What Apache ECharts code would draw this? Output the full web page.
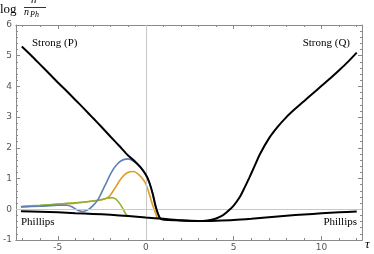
<!DOCTYPE html>
<html><head><meta charset="utf-8">
<script src="https://cdn.jsdelivr.net/npm/echarts@6/dist/echarts.min.js"></script>
<style>html,body{margin:0;padding:0;background:#fff}#c{width:374px;height:254px}</style>
</head><body><div id="c"></div>
<script>
// Data
const strongTau = [-7.05,-6.5,-6,-5.5,-5,-4.5,-4,-3.5,-3,-2.5,-2,-1.5,-1,-0.6,-0.3,0,0.2,0.4,0.55,0.68,0.8,0.95,1.3,1.7,2.2,2.7,3.2,3.6,4,4.4,4.7,5,5.34,5.6,5.9,6.2,6.5,7,7.5,8,8.5,9,9.5,10,10.5,11,11.5,12];
const strongVal = [5.3,5.0,4.71,4.42,4.13,3.85,3.56,3.27,2.97,2.67,2.36,2.06,1.75,1.55,1.37,1.13,0.88,0.5,0.12,-0.12,-0.28,-0.33,-0.35,-0.36,-0.37,-0.38,-0.38,-0.36,-0.3,-0.19,-0.05,0.12,0.39,0.68,1.04,1.42,1.8,2.3,2.68,3.0,3.27,3.52,3.77,4.02,4.27,4.53,4.8,5.1];
const phillipsTau = [-7.1,-6,-5,-4,-3,-2,-1,0,1,2,3,4,5,6,7,8,9,10,11,12];
const phillipsVal = [-0.06,-0.08,-0.1,-0.13,-0.15,-0.18,-0.22,-0.27,-0.31,-0.36,-0.38,-0.37,-0.35,-0.31,-0.26,-0.21,-0.17,-0.13,-0.1,-0.07];
const blueTau = [-7.1,-6,-5,-4.5,-4.2,-3.9,-3.6,-3.3,-3.0,-2.7,-2.33,-2.0,-1.76,-1.4,-1.0,-0.7,-0.45,-0.3,0,0.2,0.4,0.55,0.68,0.8];
const blueVal = [0.08,0.1,0.13,0.13,0.08,-0.02,-0.07,-0.02,0.12,0.33,0.76,1.15,1.38,1.58,1.64,1.57,1.45,1.36,1.12,0.87,0.49,0.11,-0.13,-0.29];
const orangeTau = [-7.1,-6,-5,-4,-3,-2.5,-2.2,-2.0,-1.76,-1.5,-1.2,-0.9,-0.7,-0.5,-0.2,0,0.2,0.4,0.52,0.6,0.66];
const orangeVal = [0.08,0.12,0.16,0.2,0.27,0.31,0.37,0.47,0.68,0.92,1.13,1.22,1.23,1.18,1.01,0.83,0.5,0.12,-0.06,-0.2,-0.3];
const greenTau = [-7.1,-6,-5,-4,-3,-2.5,-2.2,-1.95,-1.7,-1.5,-1.3,-1.15,-1.0];
const greenVal = [0.09,0.13,0.17,0.21,0.27,0.32,0.36,0.38,0.33,0.2,0.02,-0.14,-0.23];
const xMajorTicks = [-5,0,5,10];
const xMinorTicks = [-7,-6,-4,-3,-2,-1,1,2,3,4,6,7,8,9,11,12];

const zip = (a,b) => a.map((t,i)=>[t,b[i]]);
const frameColor = '#8a8a8a';
const xMin = -7.38, xMax = 12.3;

function xAx(pos, showLabel, ticks, len){
  return {type:'value', position:pos, min:xMin, max:xMax,
    axisLine:{show:true, onZero:false, lineStyle:{color:frameColor, width:1}},
    axisTick:{show:true, inside:true, length:len, customValues:ticks, lineStyle:{color:frameColor}},
    axisLabel:{show:showLabel, customValues:ticks, color:'#555', fontSize:9, fontFamily:'DejaVu Sans', margin:3},
    splitLine:{show:false}};
}
function yAx(pos, showLabel){
  return {type:'value', position:pos, min:-1, max:6, interval:1,
    axisLine:{show:true, onZero:false, lineStyle:{color:frameColor, width:1}},
    axisTick:{show:true, inside:true, length:4, lineStyle:{color:frameColor}},
    minorTick:{show:true, splitNumber:5, length:2, lineStyle:{color:frameColor}},
    axisLabel:{show:showLabel, color:'#555', fontSize:9, fontFamily:'DejaVu Sans', margin:4},
    splitLine:{show:false}};
}

const chart = echarts.init(document.getElementById('c'), null, {renderer:'canvas'});
chart.setOption({
  animation:false,
  grid:{left:16, right:12, top:25, bottom:14, containLabel:false},
  xAxis:[xAx('bottom', true, xMajorTicks, 4), xAx('top', false, xMajorTicks, 4),
         xAx('bottom', false, xMinorTicks, 2), xAx('top', false, xMinorTicks, 2)],
  yAxis:[yAx('left', true), yAx('right', false)],
  series:[
    {type:'line', data:zip(greenTau,greenVal), showSymbol:false, smooth:0.25, lineStyle:{color:'#8FB032', width:1.6}, z:3,
     markLine:{silent:true, symbol:'none', label:{show:false}, lineStyle:{color:'#c8c8c8', width:1, type:'solid'},
       data:[{xAxis:0},{yAxis:0}]}},
    {type:'line', data:zip(orangeTau,orangeVal), showSymbol:false, smooth:0.25, lineStyle:{color:'#E19C24', width:1.6}, z:2},
    {type:'line', data:zip(blueTau,blueVal), showSymbol:false, smooth:0.25, lineStyle:{color:'#5E81B5', width:1.6}, z:4},
    {type:'line', data:zip(phillipsTau,phillipsVal), showSymbol:false, smooth:0.25, lineStyle:{color:'#000', width:2}, z:5},
    {type:'line', data:zip(strongTau,strongVal), showSymbol:false, smooth:0.25, lineStyle:{color:'#000', width:2}, z:6}
  ],
  graphic:[
    {type:'text', left:32, top:38, style:{text:'Strong (P)', font:'11px "Liberation Serif"', fill:'#000'}},
    {type:'text', right:24, top:38, style:{text:'Strong (Q)', font:'11px "Liberation Serif"', fill:'#000'}},
    {type:'text', left:21, top:217, style:{text:'Phillips', font:'11px "Liberation Serif"', fill:'#000'}},
    {type:'text', right:17, top:217, style:{text:'Phillips', font:'11px "Liberation Serif"', fill:'#000'}},
    {type:'text', left:0, top:3, style:{text:'log', font:'13px "Liberation Serif"', fill:'#000'}},
    {type:'text', left:31, top:-5, style:{text:'n', font:'italic 11px "Liberation Serif"', fill:'#000'}},
    {type:'line', shape:{x1:24, y1:7.5, x2:46, y2:7.5}, style:{stroke:'#000', lineWidth:0.8}},
    {type:'text', left:24, top:7, style:{text:'n', font:'italic 10px "Liberation Serif"', fill:'#000'}},
    {type:'text', left:30, top:11, style:{text:'Ph', font:'italic 8px "Liberation Serif"', fill:'#000'}},
    {type:'text', left:365, top:238, style:{text:'τ', font:'italic 13px "Liberation Serif"', fill:'#000'}}
  ]
});
</script></body></html>
